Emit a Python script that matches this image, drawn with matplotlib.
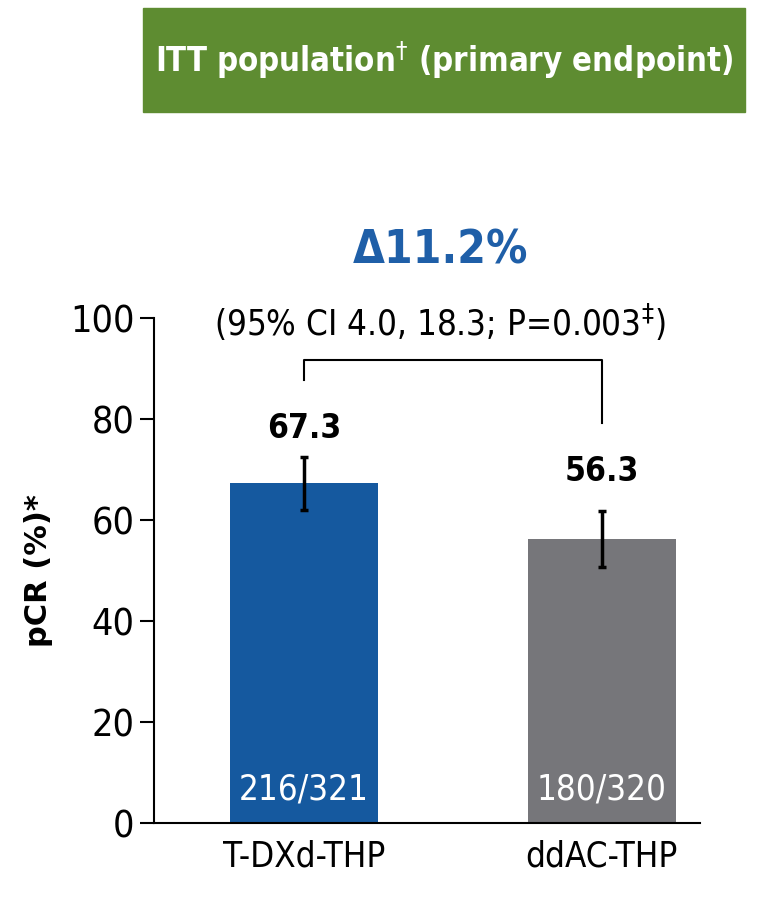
import numpy as np
import matplotlib.pyplot as plt
from matplotlib.patches import Rectangle

groups = ['T-DXd-THP', 'ddAC-THP']
pcr = [67.3, 56.3]
ci_low = [61.9, 50.6]
ci_high = [72.4, 61.8]
counts = ['216/321', '180/320']
colors = ['#15599f', '#76767a']

delta = '\u039411.2%'
delta_note = '(95% CI 4.0, 18.3; P=0.003$^{\u2021}$)'
banner = 'ITT population$^{\u2020}$ (primary endpoint)'

narrow = ['DejaVu Sans']
st = 'condensed'

fig = plt.figure(figsize=(7.68, 9.21), dpi=100)
ax = fig.add_axes([0.2005, 0.1064, 0.7105, 0.5483])

x = np.arange(len(groups))
pcr = np.array(pcr)
yerr = [pcr - np.array(ci_low), np.array(ci_high) - pcr]
ax.bar(x, pcr, width=0.497, color=colors, zorder=2)
ax.errorbar(x, pcr, yerr=yerr, fmt='none', ecolor='black', elinewidth=2.5,
            capsize=3, capthick=2.5, zorder=3)

# value labels sit a bit above each bar's upper CI
label_y = [78.2, 69.7]
for i in range(len(x)):
    ax.text(x[i], label_y[i], f'{pcr[i]:.1f}', ha='center', va='center',
            fontsize=24, fontweight='bold', family=narrow, fontstretch=st)
    ax.text(x[i], 3.3, counts[i], ha='center', va='bottom', color='white',
            fontsize=25, family=narrow, fontstretch=st)

# comparison bracket
ax.plot([x[0], x[0], x[1], x[1]], [87.8, 91.7, 91.7, 79.2], color='black',
        lw=1.5, clip_on=False)

ax.set_xlim(-0.503, 1.329)
ax.set_ylim(0, 100)
ax.set_yticks(np.arange(0, 101, 20))
ax.set_xticks(x)
ax.set_xticklabels(groups, family=narrow, fontsize=25, fontstretch=st)
ax.tick_params(axis='y', labelsize=27, length=10, width=1.5, pad=4)
ax.tick_params(axis='x', length=0, pad=12)
for lab in ax.get_yticklabels():
    lab.set_family(narrow)
    lab.set_fontstretch(st)
ax.spines['top'].set_visible(False)
ax.spines['right'].set_visible(False)
ax.spines['left'].set_linewidth(1.5)
ax.spines['bottom'].set_linewidth(1.5)
ax.set_ylabel('pCR (%)*', fontsize=22, fontweight='bold', labelpad=12)

fig.text(0.573, 0.727, delta, ha='center', va='center', color='#1f5fa8',
         fontsize=33, fontweight='bold', family=narrow, fontstretch=st)
fig.text(0.573, 0.65, delta_note, ha='center', va='center', fontsize=25,
         family=narrow, fontstretch=st)

fig.patches.append(Rectangle((143 / 768, 1 - 112 / 921), 602 / 768, 104 / 921,
                             transform=fig.transFigure, color='#5e8c31'))
fig.text(444 / 768, 1 - 60 / 921, banner, ha='center', va='center',
         color='white', fontsize=23.6, fontweight='bold', family=narrow,
         fontstretch=st)

fig.savefig('out.png', dpi=100)
